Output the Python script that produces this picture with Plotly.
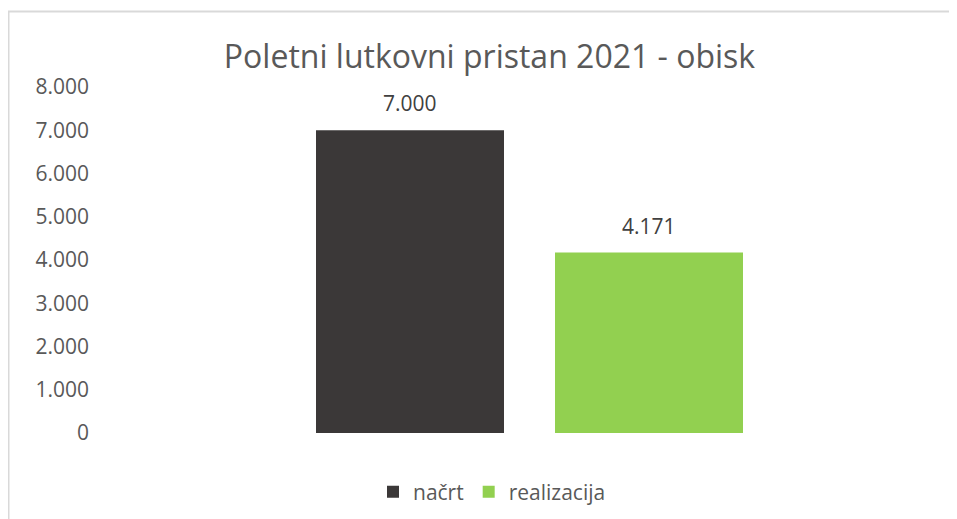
import plotly.graph_objects as go

categories = ["načrt", "realizacija"]
values = [7000, 4171]
colors = ["#3B3838", "#92D050"]
title_text = "Poletni lutkovni pristan 2021 - obisk"
tick_vals = [0, 1000, 2000, 3000, 4000, 5000, 6000, 7000, 8000]

# page body has an 8px margin; reference pixel p -> figure pixel p - OFF
OFF = 8
W, H = 957, 519
L, R, T = 100 - OFF, W - (949 - OFF), 87 - OFF
B = H - (433 - OFF)
pw = W - L - R
ph = H - T - B

def px_x(p):
    return (p - OFF - L) / pw

def px_y(p):
    return (H - B - (p - OFF)) / ph

FONT = "Open Sans"
fig = go.Figure()
for cat, val, col in zip(categories, values, colors):
    fig.add_trace(go.Bar(x=[cat], y=[val], name=cat, marker=dict(color=col, line=dict(width=0)),
                         hoverinfo="x+y"))
    fig.add_annotation(x=cat, y=val, xref="x", yref="y", text=f"{val:,}".replace(",", "."),
                       showarrow=False, yshift=27, yanchor="middle",
                       font=dict(family=FONT, size=21, color="#404040"))

# category spacing: bar centers at 410 and 649 px (reference)
step = 239.0
left_range = -((410 - OFF) - L) / step
right_range = 1 + ((W - R) - (649 - OFF)) / step

fig.update_layout(
    width=W, height=H,
    margin=dict(l=L, r=R, t=T, b=B, autoexpand=False),
    paper_bgcolor="white", plot_bgcolor="white",
    separators=",.",
    barmode="overlay",
    bargap=1 - 188 / step,
    title=dict(text=title_text, x=px_x(489.5), xanchor="center", xref="paper",
               y=1 - (57 - OFF) / H, yanchor="middle", yref="container",
               font=dict(family=FONT, size=32, color="#595959")),
    xaxis=dict(type="category", range=[left_range, right_range], showticklabels=False,
               showgrid=False, zeroline=False, showline=False, ticks=""),
    yaxis=dict(range=[0, 8000], tickvals=tick_vals, tickformat=",d", showgrid=False,
               zeroline=False, showline=False, ticks="", ticklabelstandoff=10,
               tickfont=dict(family=FONT, size=21, color="#595959")),
    showlegend=True,
    legend=dict(orientation="h", x=px_x(492), xanchor="center", y=px_y(492), yanchor="middle",
                font=dict(family=FONT, size=21, color="#595959"), itemwidth=30,
                bgcolor="rgba(0,0,0,0)"),
    shapes=[dict(type="rect", xref="paper", yref="paper", x0=px_x(8.5), x1=px_x(W + 40),
                 y0=px_y(H + 40), y1=px_y(11.5), line=dict(color="#D9D9D9", width=2),
                 fillcolor="rgba(0,0,0,0)", layer="below")],
)

fig.write_html("out.html")
